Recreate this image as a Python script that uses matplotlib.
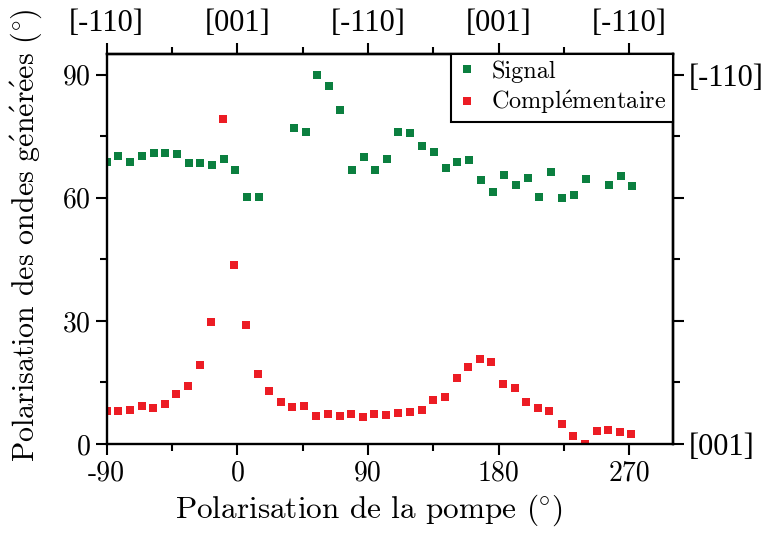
import numpy as np
import matplotlib
matplotlib.use('Agg')
import matplotlib.pyplot as plt
from matplotlib.ticker import FixedLocator

plt.rcParams['font.family'] = ['cmr10', 'DejaVu Serif']
plt.rcParams['axes.formatter.use_mathtext'] = True
plt.rcParams['mathtext.fontset'] = 'cm'

# angles de la pompe (deg)
signal_x = [-90, -82, -74, -66, -57.5, -49.5, -41.5, -33.5, -25.5, -17.5, -9.5, -1.5, 7, 15,
            39, 47, 55, 63, 71, 79, 87, 95, 103, 111, 119, 127.5, 135.5, 143.5, 151.5, 159.5,
            168, 176, 184, 192, 200, 208, 216, 224, 232, 240, 256, 264, 272]
signal_y = [68.7, 70.1, 68.8, 70.2, 70.9, 71.0, 70.6, 68.4, 68.5, 67.9, 69.4, 66.8, 60.1, 60.1,
            76.9, 76.1, 90.0, 87.3, 81.4, 66.8, 69.9, 66.8, 69.5, 76.1, 75.8, 72.5, 71.2, 67.3,
            68.6, 69.2, 64.2, 61.5, 65.6, 63.1, 64.9, 60.2, 66.2, 59.8, 60.6, 64.6, 63.0, 65.3, 62.9]

compl_x = [-90, -82, -74, -66, -58, -50, -42, -34, -26, -18, -10, -2, 6, 14, 22, 30, 38, 46,
           54.5, 62.5, 70.5, 78.5, 86.5, 94.5, 102.5, 110.5, 119, 127, 135, 143, 151, 159, 167,
           175, 183, 191, 199, 207, 215, 223.5, 231.5, 239.5, 247.5, 255.5, 263.5, 271.5]
compl_y = [8.1, 8.1, 8.3, 9.2, 8.7, 9.8, 12.3, 14.2, 19.2, 29.7, 79.2, 43.7, 29.0, 17.1, 12.8,
           10.3, 8.9, 9.2, 6.9, 7.2, 6.8, 7.2, 6.7, 7.4, 7.1, 7.6, 7.9, 8.2, 10.7, 11.5, 16.0,
           18.7, 20.7, 20.0, 14.6, 13.7, 10.2, 8.7, 8.0, 4.8, 2.0, 0.0, 3.1, 3.5, 2.9, 2.4]

x_ticks = [-90, 0, 90, 180, 270]
x_labels = ['-90', '0', '90', '180', '270']
top_labels = ['[-110]', '[001]', '[-110]', '[001]', '[-110]']
y_ticks = [0, 30, 60, 90]
right_labels = ['[001]', '', '', '[-110]']

green = '#0b7f3f'
red = '#ec1c24'
e_acc = r'$\mathrm{\acute{e}}$'
deg = r'$(\!^\circ\!)$'

fig = plt.figure(figsize=(7.63, 5.36), dpi=100)
ax = fig.add_axes([0.1398, 0.1716, 0.742, 0.7277])

ax.plot(signal_x, signal_y, 's', color=green, markersize=6.3, markeredgewidth=0,
        label='Signal')
ax.plot(compl_x, compl_y, 's', color=red, markersize=6.3, markeredgewidth=0,
        label='Compl' + e_acc + 'mentaire')

ax.set_xlim(-90, 300)
ax.set_ylim(0, 95)
ax.set_xticks(x_ticks)
ax.set_xticklabels(x_labels)
ax.set_yticks(y_ticks)
ax.xaxis.set_minor_locator(FixedLocator([-45, 45, 135, 225]))
ax.yaxis.set_minor_locator(FixedLocator([15, 45, 75]))

for s in ax.spines.values():
    s.set_linewidth(1.7)
ax.tick_params(which='major', length=8, width=1.5, labelsize=20, direction='out')
ax.tick_params(which='minor', length=5, width=1.5, direction='out')

top = ax.secondary_xaxis('top')
top.set_xticks(x_ticks)
top.set_xticklabels(top_labels, family='Liberation Serif')
top.xaxis.set_minor_locator(FixedLocator([-45, 45, 135, 225]))
top.tick_params(which='major', length=8, width=1.5, labelsize=22, direction='out')
top.tick_params(which='minor', length=5, width=1.5, direction='out')
top.spines['top'].set_linewidth(1.7)

right = ax.secondary_yaxis('right')
right.set_yticks(y_ticks)
right.set_yticklabels(right_labels, family='Liberation Serif')
right.yaxis.set_minor_locator(FixedLocator([15, 45, 75]))
right.tick_params(which='major', length=8, width=1.5, labelsize=22, direction='out')
right.tick_params(which='minor', length=5, width=1.5, direction='out')
right.spines['right'].set_linewidth(1.7)

ax.set_xlabel('Polarisation de la pompe ' + deg, fontsize=22.5)
ax.xaxis.set_label_coords(0.4625, -0.125)
ax.set_ylabel('Polarisation des ondes g' + e_acc + 'n' + e_acc + 'r' + e_acc + 'es ' + deg,
              fontsize=21.5)
ax.yaxis.set_label_coords(-0.11, 0.535)

leg = ax.legend(loc='upper right', fontsize=17.5, frameon=True, fancybox=False,
                borderaxespad=0, handlelength=0.8, handletextpad=0.6,
                borderpad=0.25, labelspacing=0.25)
leg.get_frame().set_edgecolor('black')
leg.get_frame().set_linewidth(1.5)
leg.get_frame().set_alpha(1)

fig.savefig('out.png', dpi=100)
